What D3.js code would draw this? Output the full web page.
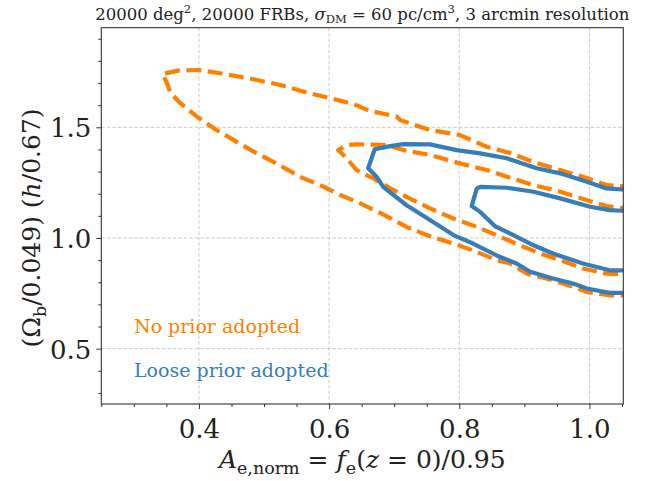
<!DOCTYPE html>
<html><head><meta charset="utf-8">
<script src="https://cdn.jsdelivr.net/npm/d3@7"></script>
<style>
body{margin:0;background:#fff}
svg{display:block}
svg text{font-family:"DejaVu Serif","Liberation Serif","Noto Serif","Times New Roman",Times,serif !important;fill:#222}
</style>
</head><body>
<svg id="chart" width="656" height="481"></svg>
<script>
// ---------- data ----------
const xMajorTicks = [0.4, 0.6, 0.8, 1.0];
const xTickLabels = ["0.4", "0.6", "0.8", "1.0"];
const yMajorTicks = [0.5, 1.0, 1.5];
const yTickLabels = ["0.5", "1.0", "1.5"];
const xMinorTicks = [0.25,0.3,0.35,0.45,0.5,0.55,0.65,0.7,0.75,0.85,0.9,0.95,1.05];
const yMinorTicks = [0.3,0.4,0.6,0.7,0.8,0.9,1.1,1.2,1.3,1.4,1.6,1.7,1.8,1.9];

// No prior adopted: outer contour
const noPriorOuterX = [1.07,1.049,1.026,0.996,0.955,0.913,0.878,0.842,0.801,0.755,0.709,0.704,0.663,0.637,0.612,0.566,0.525,0.484,0.432,0.399,0.368,0.344,
  0.351,0.356,0.371,0.397,0.427,0.453,0.484,0.519,0.555,0.586,0.617,0.647,0.688,0.719,0.750,0.791,0.827,0.857,0.878,0.904,0.944,0.975,0.996,1.031,1.049,1.07];
const noPriorOuterY = [1.234,1.234,1.239,1.271,1.307,1.344,1.384,1.412,1.465,1.488,1.533,1.548,1.574,1.605,1.624,1.657,1.691,1.717,1.744,1.759,1.756,1.741,
  1.699,1.657,1.610,1.548,1.488,1.443,1.390,1.337,1.277,1.239,1.194,1.158,1.099,1.050,1.013,0.975,0.937,0.900,0.885,0.839,0.809,0.779,0.756,0.741,0.741,0.741];
// No prior adopted: inner contour
const noPriorInnerX = [1.07,1.049,1.026,0.996,0.955,0.914,0.873,0.842,0.801,0.755,0.714,0.688,0.642,0.627,0.614,
  0.627,0.642,0.668,0.694,0.719,0.755,0.791,0.827,0.857,0.893,0.924,0.955,0.990,1.026,1.049,1.07];
const noPriorInnerY = [1.136,1.136,1.144,1.171,1.209,1.239,1.277,1.307,1.337,1.375,1.397,1.420,1.423,1.420,1.397,
  1.360,1.307,1.269,1.224,1.186,1.134,1.088,1.050,1.013,0.967,0.930,0.900,0.862,0.839,0.836,0.836];
// Loose prior adopted: outer contour
const loosePriorOuterX = [1.07,1.049,1.026,0.996,0.955,0.919,0.873,0.832,0.796,0.755,0.714,0.694,0.670,0.660,
  0.673,0.683,0.719,0.755,0.791,0.821,0.862,0.888,0.909,0.944,0.975,0.996,1.031,1.049,1.07];
const loosePriorOuterY = [1.220,1.220,1.224,1.254,1.292,1.315,1.360,1.382,1.397,1.423,1.424,1.415,1.401,1.315,
  1.277,1.231,1.148,1.081,1.013,0.975,0.915,0.885,0.847,0.817,0.794,0.772,0.752,0.752,0.752];
// Loose prior adopted: inner contour
const loosePriorInnerX = [1.07,1.049,1.031,1.001,0.955,0.914,0.873,0.832,0.827,0.819,
  0.832,0.855,0.873,0.914,0.944,0.990,1.031,1.049,1.07];
const loosePriorInnerY = [1.123,1.123,1.126,1.141,1.179,1.209,1.227,1.231,1.224,1.144,
  1.118,1.053,1.028,0.967,0.930,0.885,0.854,0.854,0.854];

const labelNoPrior = "No prior adopted";
const labelLoose = "Loose prior adopted";
const colOrange = "#ff7f00", colBlue = "#377eb8";
const FONT = "'DejaVu Serif','Liberation Serif','Noto Serif','Times New Roman',serif";

// ---------- layout ----------
const svg = d3.select("#chart");
const L = 101.3, R = 623.3, T = 27.7, B = 404;
const x = d3.scaleLinear().domain([0.25, 1.052]).range([L, R]);
const y = d3.scaleLinear().domain([0.25, 1.95]).range([B, T]);

svg.append("defs").append("clipPath").attr("id","clip")
  .append("rect").attr("x",L).attr("y",T).attr("width",R-L).attr("height",B-T);

// grid
const grid = svg.append("g").attr("stroke","#c4c4c4").attr("stroke-width",0.9).attr("stroke-dasharray","3.5,2");
grid.selectAll(".gx").data(xMajorTicks).join("line")
  .attr("x1",d=>x(d)).attr("x2",d=>x(d)).attr("y1",T).attr("y2",B);
grid.selectAll(".gy").data(yMajorTicks).join("line")
  .attr("y1",d=>y(d)).attr("y2",d=>y(d)).attr("x1",L).attr("x2",R);

// contours
const line = d3.line().x(d=>x(d[0])).y(d=>y(d[1]));
const zip = (a,b)=>a.map((v,i)=>[v,b[i]]);
const cg = svg.append("g").attr("clip-path","url(#clip)").attr("fill","none")
  .attr("stroke-linejoin","round");
[[noPriorOuterX,noPriorOuterY],[noPriorInnerX,noPriorInnerY]].forEach(([a,b])=>{
  cg.append("path").attr("d",line(zip(a,b))).attr("stroke",colOrange)
    .attr("stroke-width",4.2).attr("stroke-dasharray","15,6.5");
});
[[loosePriorOuterX,loosePriorOuterY],[loosePriorInnerX,loosePriorInnerY]].forEach(([a,b])=>{
  cg.append("path").attr("d",line(zip(a,b))).attr("stroke",colBlue)
    .attr("stroke-width",4.2);
});

// axes
const xAxis = d3.axisBottom(x).tickValues(xMajorTicks).tickSize(5).tickFormat((d,i)=>xTickLabels[i]);
const xAxisMinor = d3.axisBottom(x).tickValues(xMinorTicks).tickSize(3).tickFormat("");
const yAxis = d3.axisLeft(y).tickValues(yMajorTicks).tickSize(5).tickFormat((d,i)=>yTickLabels[i]);
const yAxisMinor = d3.axisLeft(y).tickValues(yMinorTicks).tickSize(3).tickFormat("");
function styleAxis(g){
  g.attr("font-family",FONT);
  g.select(".domain").remove();
  g.selectAll("line").attr("stroke","#333").attr("stroke-width",1);
  g.selectAll("text").attr("fill","#222").style("font-family",FONT).style("font-size","26px");
}
svg.append("g").attr("transform",`translate(0,${B})`).call(xAxisMinor).call(styleAxis);
const gx = svg.append("g").attr("transform",`translate(0,${B})`).call(xAxis).call(styleAxis);
gx.selectAll("text").attr("dy",null).attr("y",34);
svg.append("g").attr("transform",`translate(${L},0)`).call(yAxisMinor).call(styleAxis);
const gy = svg.append("g").attr("transform",`translate(${L},0)`).call(yAxis).call(styleAxis);
gy.selectAll("text").attr("dy","0.36em").attr("x",-10);

// frame
svg.append("rect").attr("x",L).attr("y",T).attr("width",R-L).attr("height",B-T)
  .attr("fill","none").attr("stroke","#333").attr("stroke-width",1.1);

// rich text helper
function rich(g, parts, size){
  const t = g.append("text").style("font-size",size+"px").style("font-family",FONT);
  parts.forEach(p=>{
    const s = t.append("tspan").text(p.t);
    if(p.i) s.style("font-style","italic");
    if(p.sub){ s.style("font-size",(size*0.7)+"px").attr("dy",size*0.22); }
    if(p.sup){ s.style("font-size",(size*0.7)+"px").attr("dy",-size*0.38); }
    if(p.back) s.attr("dy",p.back*size);
  });
  return t;
}

// title
rich(svg.append("g"),[
  {t:"20000 deg"},{t:"2",sup:1},{t:", 20000 FRBs, ",back:0.38},{t:"σ",i:1},{t:"DM",sub:1},
  {t:" = 60 pc/cm",back:-0.22},{t:"3",sup:1},{t:", 3 arcmin resolution",back:0.38}
],16.5).attr("x",(L+R)/2).attr("y",19.5).attr("text-anchor","middle");

// x label
rich(svg.append("g"),[
  {t:"A",i:1},{t:"e,norm",sub:1},{t:" = ",back:-0.22},{t:"f",i:1},{t:"e",sub:1},
  {t:"(",back:-0.22},{t:"z",i:1},{t:" = 0)/0.95"}
],25).attr("x",(L+R)/2).attr("y",468).attr("text-anchor","middle");

// y label
rich(svg.append("g"),[
  {t:"(Ω"},{t:"b",sub:1},{t:"/0.049) (",back:-0.22},{t:"h",i:1},{t:"/0.67)"}
],25).attr("text-anchor","middle").attr("transform","translate(40,228) rotate(-90)");

// annotations
svg.append("text").attr("x",134).attr("y",333).style("font-size","19px").style("font-family",FONT).style("fill",colOrange).text(labelNoPrior);
svg.append("text").attr("x",134).attr("y",377).style("font-size","19px").style("font-family",FONT).style("fill",colBlue).text(labelLoose);
</script>
</body></html>
